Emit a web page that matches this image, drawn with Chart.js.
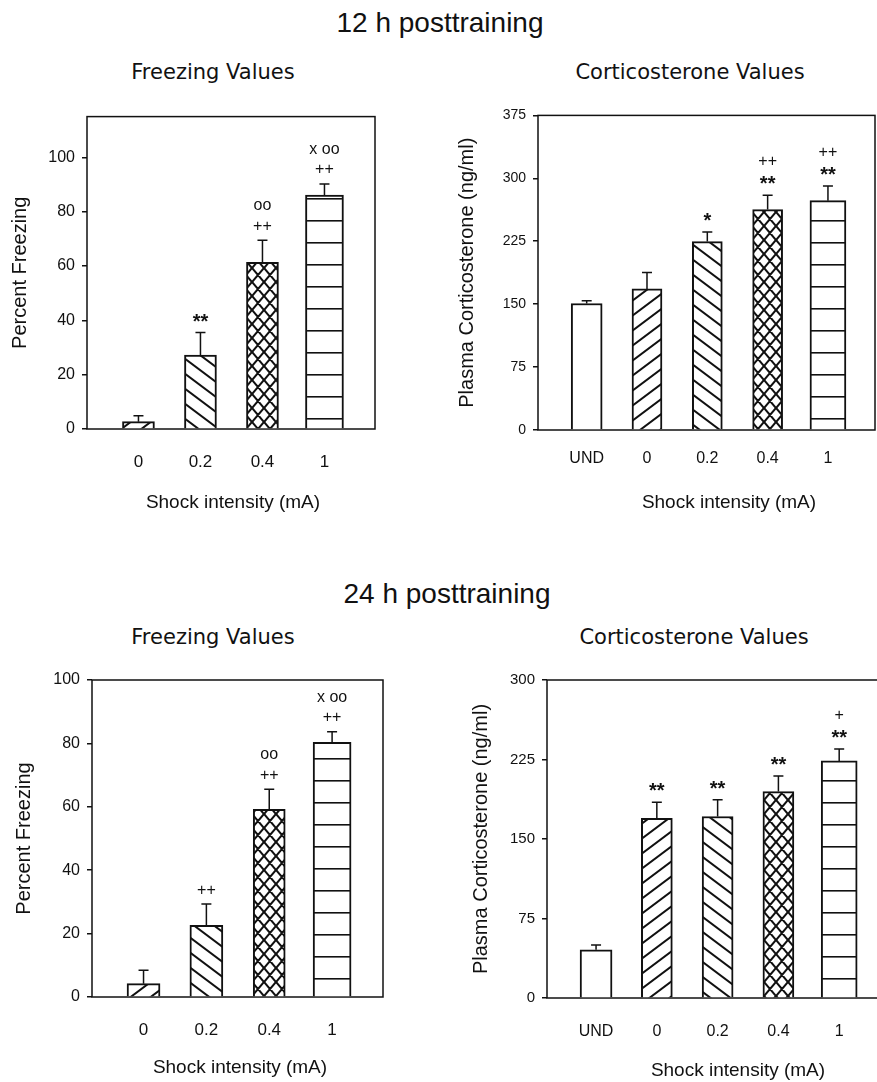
<!DOCTYPE html>
<html>
<head>
<meta charset="utf-8">
<script src="https://cdn.jsdelivr.net/npm/chart.js@4.4.1/dist/chart.umd.min.js"></script>
<style>
html, body { margin: 0; padding: 0; background: #fff; overflow: hidden; }
#page { position: relative; width: 877px; height: 1082px; overflow: hidden; }
.txt { position: absolute; white-space: nowrap; line-height: 1; color: #111; transform: translateX(-50%); }
.head { font-family: 'Liberation Sans', Arial, sans-serif; font-size: 28px; }
.sub { font-family: 'DejaVu Sans', sans-serif; font-size: 21px; }
.xt { font-family: 'Liberation Sans', Arial, sans-serif; font-size: 19px; }
.box { position: absolute; }
</style>
</head>
<body>
<div id="page">
  <div class="txt head" style="left:440px; top:9px">12 h posttraining</div>
  <div class="txt sub" style="left:213px; top:62px">Freezing Values</div>
  <div class="txt sub" style="left:690px; top:62px">Corticosterone Values</div>
  <div class="box" style="left:0; top:100px; width:440px; height:420px"><canvas id="freeze12"></canvas></div>
  <div class="box" style="left:440px; top:100px; width:437px; height:420px"><canvas id="cort12"></canvas></div>
  <div class="txt xt" style="left:233px; top:492px">Shock intensity (mA)</div>
  <div class="txt xt" style="left:729px; top:492px">Shock intensity (mA)</div>

  <div class="txt head" style="left:447px; top:580px">24 h posttraining</div>
  <div class="txt sub" style="left:213px; top:627px">Freezing Values</div>
  <div class="txt sub" style="left:694px; top:627px">Corticosterone Values</div>
  <div class="box" style="left:0; top:660px; width:440px; height:422px"><canvas id="freeze24"></canvas></div>
  <div class="box" style="left:440px; top:660px; width:460px; height:422px"><canvas id="cort24"></canvas></div>
  <div class="txt xt" style="left:240px; top:1057px">Shock intensity (mA)</div>
  <div class="txt xt" style="left:738px; top:1060px">Shock intensity (mA)</div>
</div>

<script>
Chart.defaults.font.family = "'Liberation Sans', Arial, sans-serif";
Chart.defaults.color = '#111';
Chart.defaults.animation = false;

// --- données ---

const doses = ['0', '0.2', '0.4', '1'];
const groups = ['UND', '0', '0.2', '0.4', '1'];

const freeze12 = [2.7, 27.2, 61.4, 86.1];
const freeze12Sem = [2.2, 8.3, 8.1, 4.1];
const freeze12Marks = [[], ['**'], ['oo', '++'], ['x oo', '++']];

const cort12 = [150.8, 168.2, 224.6, 262.7, 273.4];
const cort12Sem = [3.2, 19.5, 11.4, 17.1, 17.4];
const cort12Marks = [[], [], ['*'], ['++', '**'], ['++', '**']];

const freeze24 = [4.2, 22.6, 59.2, 80.3];
const freeze24Sem = [4.2, 6.7, 6.3, 3.4];
const freeze24Marks = [[], ['++'], ['oo', '++'], ['x oo', '++']];

const cort24 = [45.5, 169.6, 171.2, 194.7, 223.7];
const cort24Sem = [4.5, 15.1, 15.8, 14.8, 11.3];
const cort24Marks = [[], ['**'], ['**'], ['**'], ['+', '**']];

const freezeTicks = [0, 20, 40, 60, 80, 100];
const cort12Ticks = [0, 75, 150, 225, 300, 375];
const cort24Ticks = [0, 75, 150, 225, 300];

const freezeFills = ['fwd', 'back', 'cross', 'horiz'];
const cortFills = ['open', 'fwd', 'back', 'cross', 'horiz'];

// --- hachures ---

function hatch(kind) {
    if (kind === 'open') return '#fff';
    const c = document.createElement('canvas');
    let w = 20, h = 15;
    if (kind === 'cross') { w = 12; h = 14; }
    if (kind === 'horiz') { w = 4; h = 22; }
    c.width = w; c.height = h;
    const g = c.getContext('2d');
    g.fillStyle = '#fff';
    g.fillRect(0, 0, w, h);
    g.strokeStyle = '#111';
    if (kind === 'horiz') {
        g.fillStyle = '#111';
        g.fillRect(0, 10, w, 1.6);
    } else {
        g.lineWidth = kind === 'cross' ? 2.1 : 2;
        g.beginPath();
        for (let k = -1; k <= 1; k++) {
            if (kind === 'fwd' || kind === 'cross') {
                g.moveTo(k * w - w, 2 * h);
                g.lineTo(k * w + 2 * w, -h);
            }
            if (kind === 'back' || kind === 'cross') {
                g.moveTo(k * w - w, -h);
                g.lineTo(k * w + 2 * w, 2 * h);
            }
        }
        g.stroke();
    }
    return g.createPattern(c, 'repeat');
}

// --- cadre, barres d'erreur (SEM vers le haut) et signes ---

const semPlugin = {
    id: 'semBars',
    beforeDatasetsDraw(chart) {
        const a = chart.chartArea, ctx = chart.ctx;
        ctx.save();
        ctx.strokeStyle = '#111';
        ctx.lineWidth = 1.5;
        ctx.strokeRect(a.left, a.top, a.right - a.left, a.bottom - a.top);
        ctx.restore();
    },
    afterDatasetsDraw(chart) {
        const ctx = chart.ctx, y = chart.scales.y;
        chart.data.datasets.forEach((ds, i) => {
            const bar = chart.getDatasetMeta(i).data[0];
            const top = y.getPixelForValue(ds.data[0].y + ds.sem);
            ctx.save();
            ctx.strokeStyle = '#111';
            ctx.lineWidth = 1.5;
            ctx.beginPath();
            ctx.moveTo(bar.x, bar.y);
            ctx.lineTo(bar.x, top);
            ctx.moveTo(bar.x - 5, top);
            ctx.lineTo(bar.x + 5, top);
            ctx.stroke();
            ctx.fillStyle = '#111';
            ctx.textAlign = 'center';
            ctx.textBaseline = 'alphabetic';
            let yc = top - 15;
            ds.marks.slice().reverse().forEach(t => {
                ctx.font = t.includes('*') ? "bold 20px 'Liberation Sans', Arial" : "16px 'Liberation Sans', Arial";
                const m = ctx.measureText(t);
                ctx.fillText(t, bar.x, yc + (m.actualBoundingBoxAscent - m.actualBoundingBoxDescent) / 2);
                yc -= 19.5;
            });
            ctx.restore();
        });
    }
};

function panel(id, cats, vals, sem, marks, fills, ticks, cfg) {
    new Chart(document.getElementById(id), {
        type: 'bar',
        data: {
            datasets: vals.map((v, i) => ({
                data: [{ x: i, y: v }],
                sem: sem[i],
                marks: marks[i],
                backgroundColor: hatch(fills[i]),
                borderColor: '#111',
                borderWidth: 2,
                barThickness: cfg.barW[i],
                grouped: false
            }))
        },
        options: {
            responsive: true,
            maintainAspectRatio: false,
            layout: { padding: { top: cfg.padTop, right: cfg.padRight, left: 0, bottom: 0 } },
            plugins: { legend: { display: false }, tooltip: { enabled: false } },
            scales: {
                x: {
                    type: 'linear',
                    offset: false,
                    min: cfg.xMin,
                    max: cfg.xMax,
                    afterBuildTicks: s => { s.ticks = cats.map((c, i) => ({ value: i })); },
                    afterFit: s => { s.height = cfg.xH; },
                    ticks: { callback: v => cats[v], font: { size: cfg.xFont }, padding: cfg.xPad, autoSkip: false, maxRotation: 0 },
                    grid: { display: false, drawTicks: false, offset: false },
                    border: { display: false }
                },
                y: {
                    min: 0,
                    max: cfg.yMax,
                    afterBuildTicks: s => { s.ticks = ticks.map(v => ({ value: v })); },
                    afterFit: s => { s.width = cfg.yW; },
                    ticks: { font: { size: cfg.yFont }, padding: 7 },
                    grid: { drawOnChartArea: false, tickLength: 5, color: '#111', tickColor: '#111', lineWidth: 1.5 },
                    border: { display: false },
                    title: { display: true, text: cfg.yTitle, font: { size: 20 }, padding: { top: cfg.yTitlePad, bottom: 0 } }
                }
            }
        },
        plugins: [semPlugin]
    });
}

panel('freeze12', doses, freeze12, freeze12Sem, freeze12Marks, freezeFills, freezeTicks, {
    padTop: 15, padRight: 65, xH: 91, yW: 87, xMin: -0.83, xMax: 3.815, yMax: 115,
    xFont: 17, yFont: 16, xPad: 23, yTitle: 'Percent Freezing', yTitlePad: 8, barW: [32, 32, 32, 38]
});

panel('cort12', groups, cort12, cort12Sem, cort12Marks, cortFills, cort12Ticks, {
    padTop: 15, padRight: 2, xH: 90, yW: 98, xMin: -0.807, xMax: 4.78, yMax: 375,
    xFont: 16, yFont: 14, xPad: 19, yTitle: 'Plasma Corticosterone (ng/ml)', yTitlePad: 15, barW: [31, 30, 30, 30, 36]
});

panel('freeze24', doses, freeze24, freeze24Sem, freeze24Marks, freezeFills, freezeTicks, {
    padTop: 20, padRight: 57, xH: 85, yW: 92, xMin: -0.82, xMax: 3.81, yMax: 100,
    xFont: 17, yFont: 16, xPad: 23, yTitle: 'Percent Freezing', yTitlePad: 12, barW: [33, 33, 32, 38]
});

panel('cort24', groups, cort24, cort24Sem, cort24Marks, cortFills, cort24Ticks, {
    padTop: 20, padRight: 14, xH: 84, yW: 107, xMin: -0.807, xMax: 4.77, yMax: 300,
    xFont: 16, yFont: 15, xPad: 24, yTitle: 'Plasma Corticosterone (ng/ml)', yTitlePad: 29, barW: [32, 31, 31, 31, 36]
});
</script>
</body>
</html>
